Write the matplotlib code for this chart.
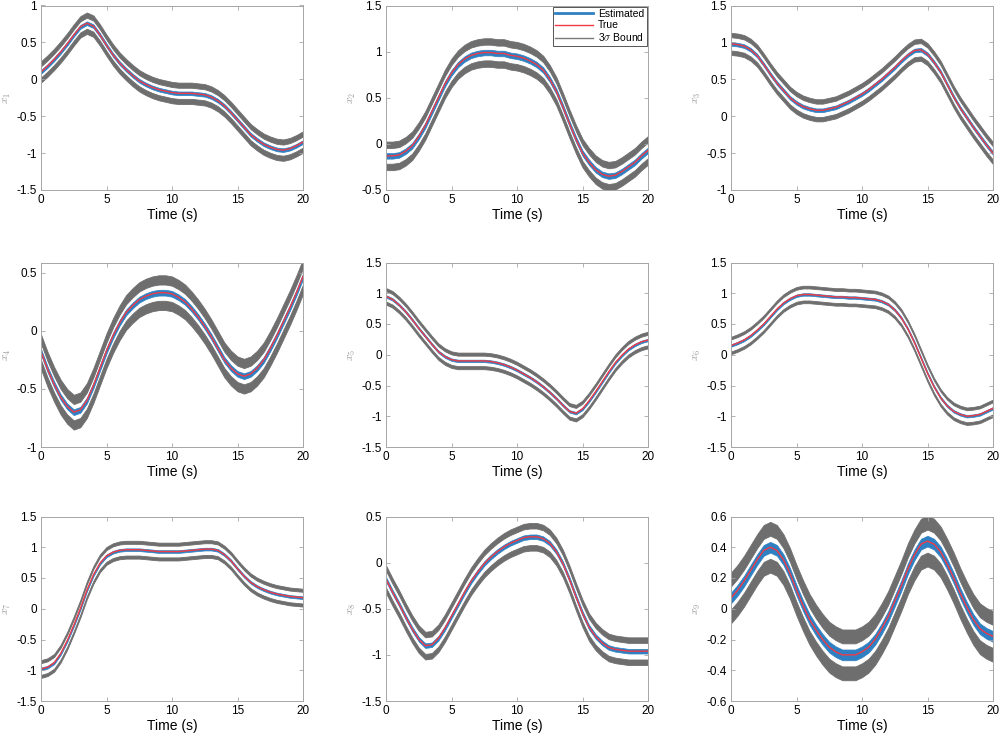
import numpy as np
import matplotlib
matplotlib.use('Agg')
import matplotlib.pyplot as plt
from matplotlib.lines import Line2D

plt.rcParams['font.family'] = ['Liberation Sans', 'DejaVu Sans']
plt.rcParams['mathtext.fontset'] = 'cm'

# time axis (s), every half second
time_s = [k * 0.5 for k in range(41)]

# true state values
x1_true = [0.10, 0.18, 0.27, 0.37, 0.48, 0.60, 0.71, 0.76, 0.72, 0.60, 0.46,
           0.33, 0.22, 0.13, 0.05, -0.02, -0.07, -0.11, -0.14, -0.16, -0.18,
           -0.19, -0.19, -0.19, -0.20, -0.21, -0.24, -0.29, -0.36, -0.45, -0.55,
           -0.65, -0.75, -0.82, -0.88, -0.92, -0.95, -0.96, -0.94, -0.90, -0.85]
x2_true = [-0.13, -0.13, -0.12, -0.08, -0.02, 0.08, 0.20, 0.35, 0.50, 0.65, 0.77,
           0.86, 0.92, 0.96, 0.98, 0.99, 0.99, 0.98, 0.98, 0.96, 0.95,
           0.93, 0.90, 0.86, 0.80, 0.70, 0.57, 0.40, 0.22, 0.05, -0.10,
           -0.20, -0.28, -0.33, -0.35, -0.34, -0.30, -0.25, -0.20, -0.13, -0.07]
x3_true = [0.98, 0.97, 0.95, 0.90, 0.82, 0.70, 0.57, 0.45, 0.35, 0.25, 0.18,
           0.13, 0.10, 0.08, 0.08, 0.10, 0.12, 0.16, 0.20, 0.25, 0.30,
           0.36, 0.43, 0.50, 0.58, 0.66, 0.75, 0.83, 0.89, 0.90, 0.84,
           0.73, 0.60, 0.43, 0.26, 0.11, -0.02, -0.15, -0.27, -0.39, -0.50]
x4_true = [-0.18, -0.33, -0.46, -0.57, -0.65, -0.70, -0.68, -0.60, -0.47, -0.32, -0.17,
           -0.04, 0.07, 0.16, 0.22, 0.27, 0.30, 0.32, 0.33, 0.33, 0.32,
           0.29, 0.25, 0.19, 0.12, 0.04, -0.05, -0.15, -0.25, -0.32, -0.37,
           -0.39, -0.37, -0.32, -0.25, -0.15, -0.04, 0.08, 0.20, 0.33, 0.47]
x5_true = [0.95, 0.90, 0.81, 0.70, 0.57, 0.43, 0.30, 0.17, 0.05, -0.03, -0.08,
           -0.10, -0.10, -0.10, -0.10, -0.10, -0.11, -0.13, -0.16, -0.20, -0.25,
           -0.31, -0.37, -0.44, -0.52, -0.61, -0.71, -0.82, -0.92, -0.95, -0.88,
           -0.75, -0.60, -0.44, -0.28, -0.13, -0.01, 0.09, 0.16, 0.21, 0.24]
x6_true = [0.15, 0.19, 0.24, 0.31, 0.40, 0.50, 0.62, 0.74, 0.84, 0.91, 0.96,
           0.98, 0.98, 0.97, 0.96, 0.95, 0.94, 0.94, 0.93, 0.93, 0.92,
           0.91, 0.90, 0.87, 0.82, 0.73, 0.60, 0.42, 0.20, -0.05, -0.30,
           -0.52, -0.70, -0.83, -0.92, -0.97, -1.00, -0.99, -0.97, -0.92, -0.87]
x7_true = [-0.98, -0.95, -0.88, -0.73, -0.52, -0.27, 0.00, 0.30, 0.55, 0.74, 0.86,
           0.92, 0.95, 0.96, 0.96, 0.96, 0.95, 0.94, 0.93, 0.93, 0.93,
           0.93, 0.94, 0.95, 0.96, 0.97, 0.97, 0.95, 0.88, 0.78, 0.65,
           0.53, 0.43, 0.36, 0.31, 0.27, 0.24, 0.22, 0.20, 0.19, 0.18]
x8_true = [-0.18, -0.32, -0.45, -0.59, -0.72, -0.83, -0.90, -0.89, -0.82, -0.71, -0.58,
           -0.45, -0.32, -0.20, -0.10, -0.01, 0.06, 0.12, 0.17, 0.21, 0.24,
           0.27, 0.28, 0.28, 0.26, 0.21, 0.12, -0.01, -0.18, -0.37, -0.55,
           -0.70, -0.80, -0.87, -0.92, -0.94, -0.95, -0.96, -0.96, -0.96, -0.96]
x9_true = [0.07, 0.12, 0.18, 0.25, 0.32, 0.38, 0.40, 0.38, 0.32, 0.23, 0.12,
           0.02, -0.07, -0.14, -0.20, -0.25, -0.28, -0.30, -0.30, -0.30, -0.28,
           -0.25, -0.20, -0.13, -0.05, 0.05, 0.15, 0.26, 0.35, 0.42, 0.44,
           0.42, 0.37, 0.29, 0.20, 0.10, 0.01, -0.07, -0.13, -0.16, -0.18]

states = [x1_true, x2_true, x3_true, x4_true, x5_true, x6_true, x7_true, x8_true, x9_true]

# 3 sigma offset, spread of the noisy bound lines, spread of the estimate
sigma3 = [0.11, 0.12, 0.12, 0.11, 0.11, 0.12, 0.12, 0.12, 0.12]
bound_spread = [0.035, 0.035, 0.03, 0.04, 0.025, 0.022, 0.025, 0.03, 0.045]
est_spread = [0.025, 0.03, 0.025, 0.025, 0.02, 0.02, 0.022, 0.025, 0.035]

y_limits = [(-1.5, 1), (-0.5, 1.5), (-1, 1.5), (-1, 0.59), (-1.5, 1.5),
            (-1.5, 1.5), (-1.5, 1.5), (-1.5, 0.5), (-0.6, 0.6)]
y_steps = [0.5, 0.5, 0.5, 0.5, 0.5, 0.5, 0.5, 0.5, 0.2]

col_left = [41, 386, 731]
row_bottom = [190, 447, 701]

gray = '#6e6e6e'
blue = '#2f80c2'
red = '#f03a46'
frame = '#a6a6a6'

fig = plt.figure(figsize=(10, 7.38), dpi=100)

for i, vals in enumerate(states):
    r, c = divmod(i, 3)
    ax = fig.add_axes([col_left[c] / 1000, (738 - row_bottom[r]) / 738, 0.262, 184.5 / 738])
    t = np.array(time_s)
    v = np.array(vals)
    s, w = sigma3[i], bound_spread[i]
    ax.fill_between(t, v + s - w, v + s + w, color=gray, lw=0.6, edgecolor=gray)
    ax.fill_between(t, v - s - w, v - s + w, color=gray, lw=0.6, edgecolor=gray)
    e = est_spread[i]
    ax.fill_between(t, v - e, v + e, color=blue, lw=0.5, edgecolor=blue)
    ax.plot(t, v, color=red, lw=1.0)

    ax.set_xlim(0, 20)
    ax.set_ylim(*y_limits[i])
    lo, hi = y_limits[i]
    step = y_steps[i]
    ticks = np.arange(np.ceil(lo / step - 1e-9) * step, hi + 1e-9, step)
    ax.set_yticks(ticks)
    ax.set_yticklabels(['%g' % round(tk, 2) for tk in ticks])
    ax.set_xticks([0, 5, 10, 15, 20])
    ax.tick_params(direction='in', length=3, width=0.6, color=frame,
                   top=True, right=True, labelsize=8.5, pad=3)
    for sp in ax.spines.values():
        sp.set_color(frame)
        sp.set_linewidth(0.7)
    ax.set_xlabel('Time (s)', fontsize=10, labelpad=1)
    ax.set_ylabel('$x_%d$' % (i + 1), fontsize=8.5, color='#9a9a9a')
    ax.yaxis.set_label_coords(-0.108, 0.5)

    if i == 1:
        handles = [Line2D([], [], color=blue, lw=2),
                   Line2D([], [], color=red, lw=1),
                   Line2D([], [], color='#7a7a7a', lw=1)]
        leg = ax.legend(handles, ['Estimated', 'True', r'3$\sigma$ Bound'],
                        loc='upper right', fontsize=7.5, fancybox=False,
                        framealpha=1, edgecolor='#3a3a3a', borderaxespad=0.1,
                        handlelength=3.6, labelspacing=0.1, borderpad=0.25,
                        handletextpad=0.5)
        leg.get_frame().set_linewidth(0.6)

fig.savefig('out.png', dpi=100)
